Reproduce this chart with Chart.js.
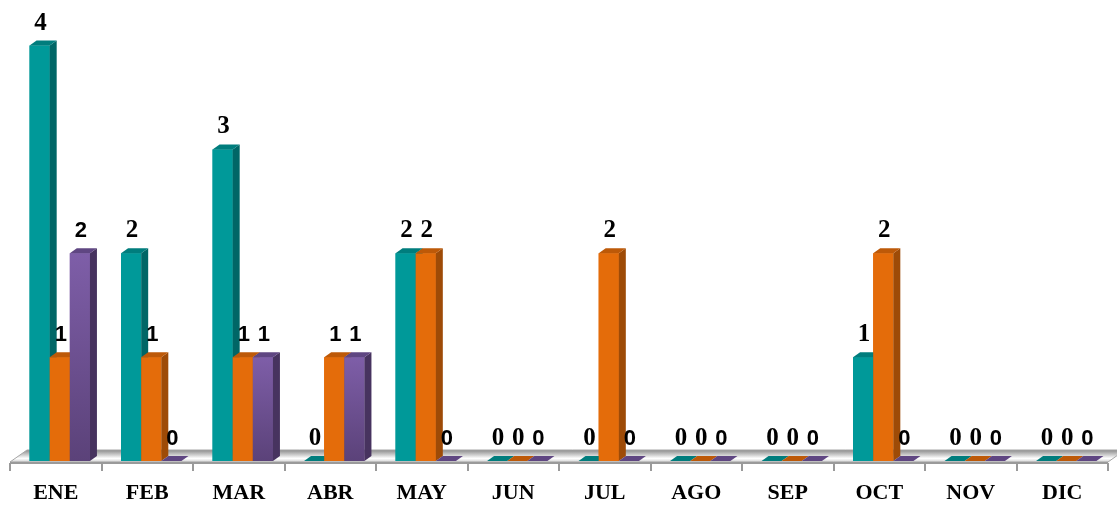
<!DOCTYPE html>
<html>
<head>
<meta charset="utf-8">
<script src="https://cdn.jsdelivr.net/npm/chart.js@4.4.1/dist/chart.umd.min.js"></script>
<style>
    html, body { margin: 0; padding: 0; background: #ffffff; }
    #wrap { width: 1117px; height: 508px; }
</style>
</head>
<body>
<div id="wrap"><canvas id="chart"></canvas></div>
<script>
// Data
const months = ['ENE', 'FEB', 'MAR', 'ABR', 'MAY', 'JUN', 'JUL', 'AGO', 'SEP', 'OCT', 'NOV', 'DIC'];
const serieTeal   = [4, 2, 3, 0, 2, 0, 0, 0, 0, 1, 0, 0];
const serieOrange = [1, 1, 1, 1, 2, 0, 2, 0, 0, 2, 0, 0];
const seriePurple = [2, 0, 1, 1, 0, 0, 0, 0, 0, 0, 0, 0];

// 3D look
const DX = 7, DY = 5;
const faces = [
    { front: '#009999', side: '#006666', top: '#007d7d' },
    { front: '#e46c0a', side: '#9e4b07', top: '#bd5908' },
    { front: '#7e5ea8', frontEnd: '#5b4279', side: '#47335f', top: '#5f4682' }
];

const axisFont = { family: '"Liberation Serif", "Times New Roman", serif', weight: 'bold', size: 22 };
const serifFont = { family: '"Liberation Serif", "Times New Roman", serif', weight: 'bold', size: 25 };
const sansFont = { family: '"Liberation Sans", Arial, sans-serif', weight: 'bold', size: 22 };

function labelFont(d, value) {
    // purple labels and the orange "1"s use the sans face in the reference
    if (d === 2 || (d === 1 && value === 1)) return sansFont;
    return serifFont;
}

function poly(ctx, pts, color) {
    ctx.beginPath();
    ctx.moveTo(pts[0][0], pts[0][1]);
    for (let k = 1; k < pts.length; k++) ctx.lineTo(pts[k][0], pts[k][1]);
    ctx.closePath();
    ctx.fillStyle = color;
    ctx.fill();
}

const floor3d = {
    id: 'floor3d',
    beforeDatasetsDraw(chart) {
        const { ctx, chartArea: a } = chart;
        const y0 = chart.scales.y.getPixelForValue(0);
        const fl = a.left - 4, fr = a.right - 4, fy = y0 + 1;
        const back = 17, up = 12;

        ctx.save();
        const g = ctx.createLinearGradient(0, fy - up, 0, fy);
        g.addColorStop(0, '#8c8c8c');
        g.addColorStop(0.35, '#c4c4c4');
        g.addColorStop(0.7, '#ffffff');
        g.addColorStop(1, '#d2d2d2');
        ctx.beginPath();
        ctx.moveTo(fl, fy);
        ctx.lineTo(fr, fy);
        ctx.lineTo(fr + back, fy - up);
        ctx.lineTo(fl + back, fy - up);
        ctx.closePath();
        ctx.fillStyle = g;
        ctx.fill();
        ctx.strokeStyle = '#a6a6a6';
        ctx.lineWidth = 1;
        ctx.stroke();

        // front edge and tick marks
        ctx.strokeStyle = '#9a9a9a';
        ctx.lineWidth = 2;
        ctx.beginPath();
        ctx.moveTo(fl, fy + 1);
        ctx.lineTo(fr, fy + 1);
        const step = a.width / months.length;
        for (let i = 0; i <= months.length; i++) {
            const x = Math.round(fl + i * step);
            ctx.moveTo(x, fy + 1);
            ctx.lineTo(x, fy + 9);
        }
        ctx.stroke();
        ctx.restore();
    },
    afterDatasetsDraw(chart) {
        const { ctx } = chart;
        const sets = chart.data.datasets;
        ctx.save();

        for (let i = 0; i < months.length; i++) {
            sets.forEach((ds, d) => {
                const bar = chart.getDatasetMeta(d).data[i];
                const { x, y, base, width } = bar.getProps(['x', 'y', 'base', 'width'], true);
                const l = x - width / 2, r = x + width / 2;
                const f = faces[d];

                if (base - y > 0.5) {
                    let fill = f.front;
                    if (f.frontEnd) {
                        fill = ctx.createLinearGradient(0, y, 0, base);
                        fill.addColorStop(0, f.front);
                        fill.addColorStop(1, f.frontEnd);
                    }
                    ctx.fillStyle = fill;
                    ctx.fillRect(l, y, width, base - y);
                }
                poly(ctx, [[r, y], [r + DX, y - DY], [r + DX, base - DY], [r, base]], f.side);
                poly(ctx, [[l, y], [l + DX, y - DY], [r + DX, y - DY], [r, y]], f.top);
            });
        }

        // value labels
        ctx.fillStyle = '#000000';
        ctx.textAlign = 'center';
        ctx.textBaseline = 'alphabetic';
        for (let i = 0; i < months.length; i++) {
            sets.forEach((ds, d) => {
                const bar = chart.getDatasetMeta(d).data[i];
                const value = ds.data[i];
                const font = labelFont(d, value);
                ctx.font = `${font.weight} ${font.size}px ${font.family}`;
                ctx.fillText(String(value), bar.x + 1, bar.y - 16);
            });
        }
        ctx.restore();
    }
};

const ctx = document.getElementById('chart');
new Chart(ctx, {
    type: 'bar',
    data: {
        labels: months,
        datasets: [
            { label: 'Serie 1', data: serieTeal, backgroundColor: faces[0].front },
            { label: 'Serie 2', data: serieOrange, backgroundColor: faces[1].front },
            { label: 'Serie 3', data: seriePurple, backgroundColor: faces[2].front }
        ]
    },
    options: {
        responsive: true,
        maintainAspectRatio: false,
        animation: false,
        layout: { padding: { left: 14, right: 5, top: 4, bottom: 0 } },
        datasets: {
            bar: { categoryPercentage: 0.66, barPercentage: 1 }
        },
        plugins: {
            legend: { display: false },
            tooltip: { enabled: false }
        },
        scales: {
            x: {
                grid: { display: false, drawTicks: false },
                border: { display: false },
                ticks: {
                    color: '#000000',
                    font: axisFont,
                    padding: 19,
                    labelOffset: -4,
                    maxRotation: 0
                },
                afterFit(scale) { scale.height = 47; }
            },
            y: {
                display: false,
                min: 0,
                max: 4.4
            }
        }
    },
    plugins: [floor3d]
});
</script>
</body>
</html>
